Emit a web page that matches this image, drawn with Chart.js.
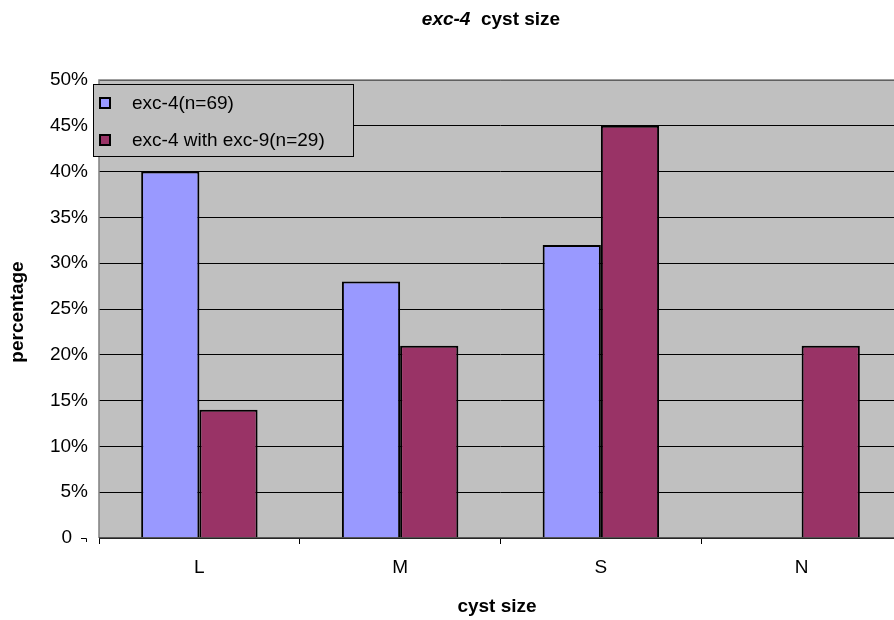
<!DOCTYPE html>
<html>
<head>
<meta charset="utf-8">
<script src="https://cdn.jsdelivr.net/npm/chart.js@4/dist/chart.umd.min.js"></script>
<style>
  html, body { margin: 0; padding: 0; background: #ffffff; overflow: hidden; }
  #wrap { position: absolute; left: 0; top: 0; width: 910px; height: 620px; }
</style>
</head>
<body>
<div id="wrap"><canvas id="c" width="910" height="620"></canvas></div>
<script>
// cyst size categories and percentages per strain
const categories = ['L', 'M', 'S', 'N'];
const exc4 = [40, 28, 32, 0];
const exc4WithExc9 = [14, 21, 45, 21];
const seriesLabels = ['exc-4(n=69)', 'exc-4 with exc-9(n=29)'];
const yTicks = [0, 5, 10, 15, 20, 25, 30, 35, 40, 45, 50];

const FONT = '"Liberation Sans", Arial, Helvetica, sans-serif';

// plot background, frame, titles and boxed legend
const decor = {
  id: 'decor',
  beforeDraw(chart) {
    const { ctx, chartArea: a } = chart;
    ctx.save();
    ctx.fillStyle = '#c0c0c0';
    ctx.fillRect(a.left, a.top, a.right - a.left, a.bottom - a.top);
    ctx.restore();
  },
  afterDraw(chart) {
    const { ctx, chartArea: a } = chart;
    ctx.save();
    // frame
    ctx.strokeStyle = '#808080';
    ctx.lineWidth = 1.5;
    ctx.beginPath();
    ctx.moveTo(a.left, a.bottom);
    ctx.lineTo(a.left, a.top);
    ctx.lineTo(a.right, a.top);
    ctx.stroke();
    ctx.strokeStyle = '#333333';
    ctx.lineWidth = 1.5;
    ctx.beginPath();
    ctx.moveTo(a.left, a.bottom);
    ctx.lineTo(a.right, a.bottom);
    ctx.stroke();

    // small mark beside the zero label
    ctx.strokeStyle = '#000';
    ctx.lineWidth = 1;
    ctx.beginPath();
    ctx.moveTo(81, 538.5);
    ctx.lineTo(86.5, 538.5);
    ctx.lineTo(86.5, 542);
    ctx.stroke();

    // chart title: "exc-4" bold italic, "cyst size" bold
    ctx.fillStyle = '#000';
    ctx.textBaseline = 'alphabetic';
    const t1 = 'exc-4';
    const t2 = '  cyst size';
    ctx.font = 'italic bold 19px ' + FONT;
    const w1 = ctx.measureText(t1).width;
    ctx.font = 'bold 19px ' + FONT;
    const w2 = ctx.measureText(t2).width;
    const tx = 491 - (w1 + w2) / 2;
    ctx.font = 'italic bold 19px ' + FONT;
    ctx.textAlign = 'left';
    ctx.fillText(t1, tx, 25);
    ctx.font = 'bold 19px ' + FONT;
    ctx.fillText(t2, tx + w1, 25);

    // axis titles
    ctx.textAlign = 'center';
    ctx.textBaseline = 'middle';
    ctx.font = 'bold 19px ' + FONT;
    ctx.fillText('cyst size', 497, 607);
    ctx.save();
    ctx.translate(18, 312);
    ctx.rotate(-Math.PI / 2);
    ctx.fillText('percentage', 0, 0);
    ctx.restore();

    // legend box
    const lx = 93, ly = 84, lw = 260, lh = 72;
    ctx.fillStyle = '#c0c0c0';
    ctx.fillRect(lx, ly, lw, lh);
    ctx.strokeStyle = '#000';
    ctx.lineWidth = 1;
    ctx.strokeRect(lx + 0.5, ly + 0.5, lw, lh);
    const rows = [103, 140];
    chart.data.datasets.forEach((ds, i) => {
      const y = rows[i];
      ctx.fillStyle = ds.backgroundColor;
      ctx.fillRect(100, y - 5, 10, 10);
      ctx.strokeStyle = '#000';
      ctx.lineWidth = 2;
      ctx.strokeRect(100, y - 5, 10, 10);
      ctx.fillStyle = '#000';
      ctx.font = '19px ' + FONT;
      ctx.textAlign = 'left';
      ctx.textBaseline = 'middle';
      ctx.fillText(ds.label, 132, y + 1);
    });
    ctx.restore();
  }
};

new Chart(document.getElementById('c'), {
  type: 'bar',
  data: {
    labels: categories,
    datasets: [
      {
        label: seriesLabels[0],
        data: exc4,
        backgroundColor: '#9999ff',
        borderColor: '#000000',
        borderWidth: 2
      },
      {
        label: seriesLabels[1],
        data: exc4WithExc9,
        backgroundColor: '#993366',
        borderColor: '#000000',
        borderWidth: 2
      }
    ]
  },
  options: {
    responsive: false,
    devicePixelRatio: 1,
    animation: false,
    layout: { padding: { left: 0, top: 80, right: 8, bottom: 0 } },
    datasets: { bar: { categoryPercentage: 0.58, barPercentage: 1.0 } },
    plugins: {
      legend: { display: false },
      title: { display: false },
      tooltip: { enabled: false }
    },
    scales: {
      x: {
        grid: {
          offset: true,
          drawOnChartArea: false,
          drawTicks: true,
          tickLength: 6,
          color: '#000',
          lineWidth: 1
        },
        border: { display: false },
        ticks: {
          color: '#000',
          font: { family: FONT, size: 19 },
          padding: 12
        },
        afterFit(scale) { scale.height = 82; }
      },
      y: {
        min: 0,
        max: 50,
        afterBuildTicks(scale) { scale.ticks = yTicks.map(v => ({ value: v })); },
        grid: {
          color: '#000',
          lineWidth: 1,
          drawTicks: false
        },
        border: { display: false },
        ticks: {
          color: '#000',
          font: { family: FONT, size: 19 },
          padding: 11,
          callback: v => (v === 0 ? '0   ' : v + '%')
        },
        afterFit(scale) { scale.width = 99; }
      }
    }
  },
  plugins: [decor]
});
</script>
</body>
</html>
